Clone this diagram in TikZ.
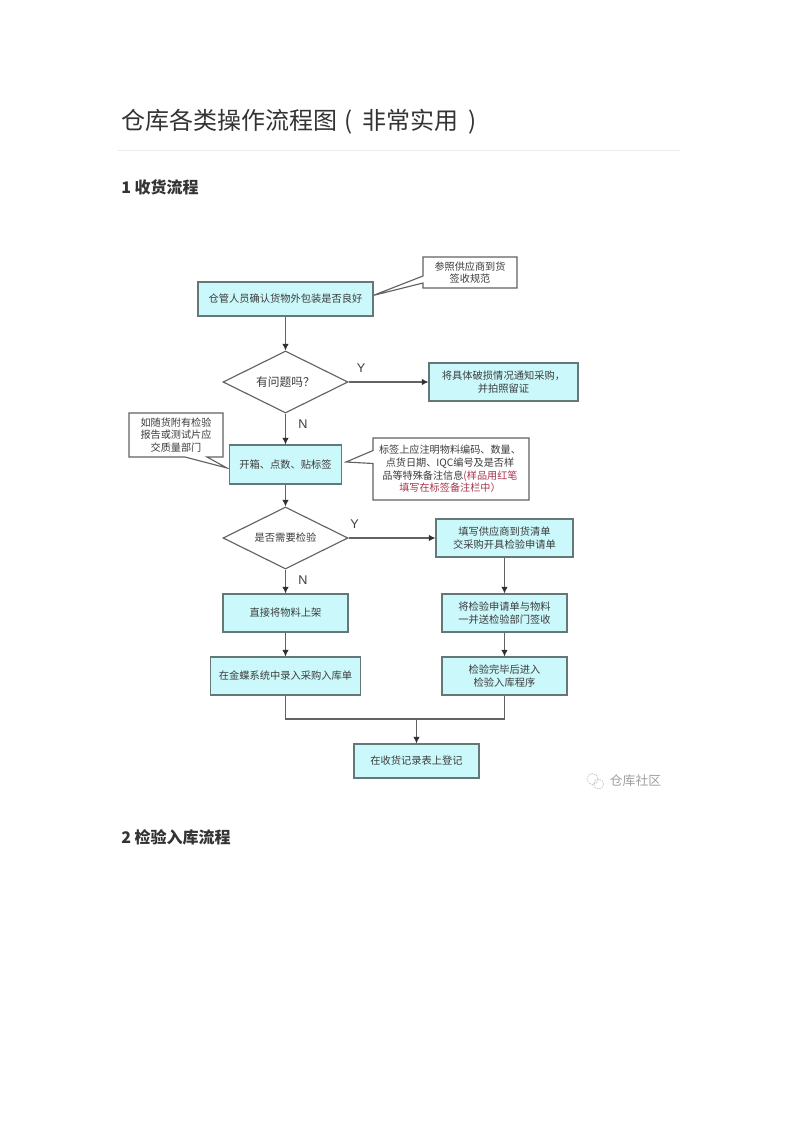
\documentclass[tikz,border=0pt]{standalone}
\usepackage{fontspec}
\setmainfont{Noto Sans CJK SC}
\newfontfamily\latinlabel{Liberation Sans}
\usetikzlibrary{shapes.geometric,arrows.meta}
\definecolor{boxfill}{HTML}{CBF8FA}
\definecolor{boxedge}{HTML}{647878}
\definecolor{inkline}{HTML}{626262}
\definecolor{tipink}{HTML}{303030}
\definecolor{inktext}{HTML}{3C3C3C}
\definecolor{redtext}{HTML}{A8344C}
\definecolor{headtext}{HTML}{333333}
\tikzset{
  x=0.75pt,y=-0.75pt,
  flowbox/.style={draw=boxedge,fill=boxfill,line width=0.85pt,inner sep=0pt,align=center,
    font=\fontsize{7.7pt}{9.5pt}\selectfont,text=inktext},
  decision/.style={draw=inkline,fill=white,diamond,aspect=2,inner sep=0pt,line width=0.85pt,
    minimum width=93.75pt,minimum height=46.5pt,align=center,text=inktext},
  calloutshape/.style={draw=inkline,fill=white,line width=0.85pt,line join=miter},
  callouttext/.style={inner sep=0pt,align=center,font=\fontsize{7.6pt}{9.5pt}\selectfont,text=inktext},
  flowarrow/.style={draw=inkline,line width=0.85pt,-{Latex[length=5pt,width=5pt,color=tipink]}},
  flowline/.style={draw=inkline,line width=0.85pt},
  branchlabel/.style={inner sep=0pt,font=\latinlabel\fontsize{9.5pt}{10pt}\selectfont,text=inktext},
  headone/.style={inner sep=0pt,anchor=west,font=\fontsize{12pt}{14pt}\selectfont\bfseries,text=headtext},
}
\begin{document}
\begin{tikzpicture}
\useasboundingbox (0,0) rectangle (800,1131);
% page headings
\node[inner sep=0pt,anchor=west,font=\fontsize{18pt}{20pt}\selectfont,text=headtext] (title) at (121,122) {仓库各类操作流程图\hspace{5.5pt}(\hspace{7pt}非常实用\hspace{7.5pt})};
\coordinate (ruleL) at (118,150); \coordinate (ruleR) at (680,150);
\draw[draw=black!8,line width=0.6pt] (ruleL) -- (ruleR);
\node[headone] (h1) at (121,187.5) {1 收货流程};
\node[headone] (h2) at (121,837.5) {2 检验入库流程};
% callouts
\draw[calloutshape] (423,257) -- (517,257) -- (517,288) -- (423,288) -- (423,283) -- (373,295.5) -- (423,276) -- cycle;
\node[callouttext] (c1) at (470,272.5) {参照供应商到货\\签收规范};
\draw[calloutshape] (129,413) -- (223,413) -- (223,457) -- (207,457) -- (227,468) -- (185,457) -- (129,457) -- cycle;
\node[callouttext] (c2) at (176,435) {如随货附有检验\\报告或测试片应\\交质量部门};
\draw[calloutshape] (373,438) -- (529,438) -- (529,500) -- (373,500) -- (373,463.5) -- (346,462) -- (373,450.5) -- cycle;
\node[callouttext] (c3) at (450,469) {标签上应注明物料编码、数量、\\点货日期、IQC编号及是否样\\品等特殊备注信息{\color{redtext}(样品用红笔}\\{\color{redtext}填写在标签备注栏中）}};
% boxes
\node[flowbox,minimum width=131.25pt,minimum height=25.5pt] (b1) at (285.5,299) {仓管人员确认货物外包装是否良好};
\node[decision] (d1) at (285.5,382) {\fontsize{8.8pt}{10pt}\selectfont 有问题吗？};
\node[flowbox,minimum width=111.75pt,minimum height=28.5pt] (b2) at (503.5,382) {将具体破损情况通知采购，\\并拍照留证};
\node[flowbox,minimum width=84pt,minimum height=29.25pt] (b3) at (285.5,464.5) {开箱、点数、贴标签};
\node[decision] (d2) at (285.5,538) {\fontsize{7.7pt}{9pt}\selectfont 是否需要检验};
\node[flowbox,minimum width=102.75pt,minimum height=28.5pt] (b4) at (504.5,538) {填写供应商到货清单\\交采购开具检验申请单};
\node[flowbox,minimum width=93.75pt,minimum height=28.5pt] (b5) at (285.5,613) {直接将物料上架};
\node[flowbox,minimum width=93.75pt,minimum height=28.5pt] (b6) at (504.5,613) {将检验申请单与物料\\一并送检验部门签收};
\node[flowbox,minimum width=112.5pt,minimum height=28.5pt] (b7) at (285.5,676) {在金蝶系统中录入采购入库单};
\node[flowbox,minimum width=93.75pt,minimum height=28.5pt] (b8) at (504.5,676) {检验完毕后进入\\检验入库程序};
\node[flowbox,minimum width=93.75pt,minimum height=25.5pt] (b9) at (416.5,761) {在收货记录表上登记};
% connectors
\draw[flowarrow] (b1) -- (d1);
\draw[flowarrow] (d1) -- (b2);
\draw[flowarrow] (d1) -- (b3);
\draw[flowarrow] (b3) -- (d2);
\draw[flowarrow] (d2) -- (b4);
\draw[flowarrow] (d2) -- (b5);
\draw[flowarrow] (b5) -- (b7);
\draw[flowarrow] (b4) -- (b6);
\draw[flowarrow] (b6) -- (b8);
\coordinate (merge) at (416.5,719);
\draw[flowline] (b7.south) |- (merge);
\draw[flowline] (b8.south) |- (merge);
\draw[flowarrow] (merge) -- (b9);
% branch labels
\node[branchlabel] (y1) at (361,368) {Y};
\node[branchlabel] (n1) at (303,424) {N};
\node[branchlabel] (y2) at (354.5,524) {Y};
\node[branchlabel] (n2) at (303,580.5) {N};
% watermark
\draw[black!22,line width=0.6pt,dash pattern=on 1.2pt off 0.8pt] (592.5,779) circle[radius=5.5];
\draw[black!22,line width=0.6pt,dash pattern=on 1.2pt off 0.8pt] (598.5,784) circle[radius=5];
\node[inner sep=0pt,font=\fontsize{9.6pt}{11pt}\selectfont,text=black!38] (wm) at (635.5,781) {仓库社区};
\end{tikzpicture}
\end{document}
